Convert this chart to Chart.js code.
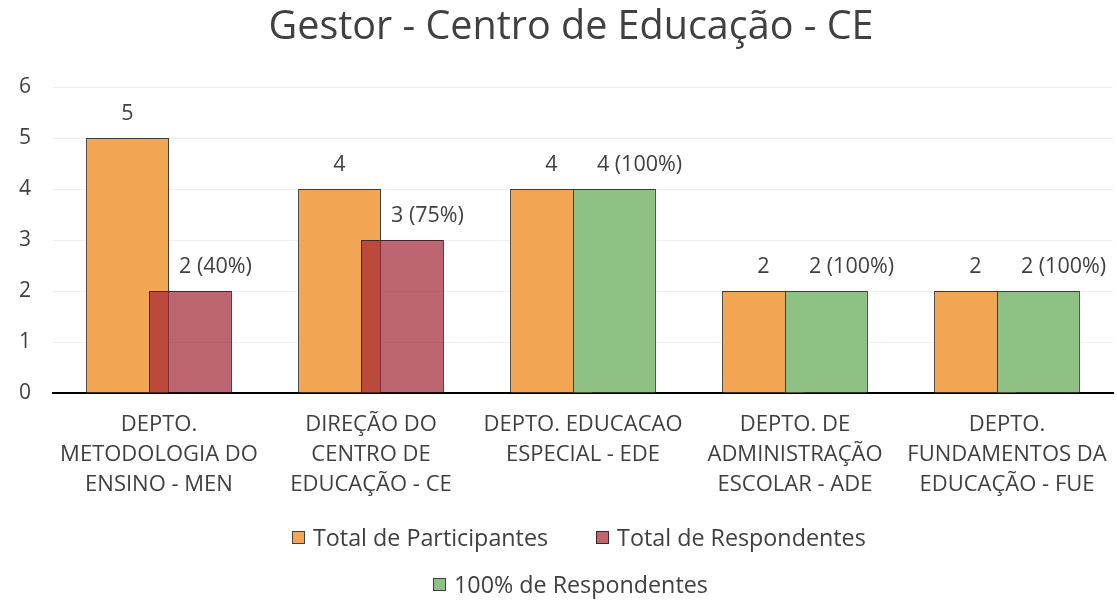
<!DOCTYPE html>
<html lang="pt">
<head>
<meta charset="utf-8">
<title>Gestor - Centro de Educação - CE</title>
<script src="https://cdn.jsdelivr.net/npm/chart.js@4.4.1/dist/chart.umd.min.js"></script>
<style>
  html, body { margin: 0; padding: 0; background: #fff; }
  .wrap { position: relative; width: 1117px; height: 600px; }
  #chart { position: absolute; left: 0; top: 0; }
  .legend-row { position: absolute; display: flex; align-items: center; font-family: 'Open Sans', sans-serif; font-size: 23.3px; color: #404040; white-space: nowrap; }
  .legend-item { display: flex; align-items: center; }
  .legend-item .box { width: 11px; height: 11px; border: 1px solid #404040; margin-right: 8px; }
</style>
</head>
<body>
<div class="wrap">
  <canvas id="chart" width="1117" height="600"></canvas>
  <div class="legend-row" id="legend-row1" style="left:292px; top:521px;"></div>
  <div class="legend-row" id="legend-row2" style="left:433px; top:568px;"></div>
</div>

<script>
/* ── Data ── */
const categories = [
  ['DEPTO.', 'METODOLOGIA DO', 'ENSINO - MEN'],
  ['DIREÇÃO DO', 'CENTRO DE', 'EDUCAÇÃO - CE'],
  ['DEPTO. EDUCACAO', 'ESPECIAL - EDE'],
  ['DEPTO. DE', 'ADMINISTRAÇÃO', 'ESCOLAR - ADE'],
  ['DEPTO.', 'FUNDAMENTOS DA', 'EDUCAÇÃO - FUE'],
];
const participantes   = [5, 4, 4, 2, 2];
const respondentes    = [2, 3, null, null, null];
const respondentes100 = [null, null, 4, 2, 2];
const yTicks = [0, 1, 2, 3, 4, 5, 6];

const chartTitle = 'Gestor - Centro de Educação - CE';
const seriesNames = ['Total de Participantes', 'Total de Respondentes', '100% de Respondentes'];
const colors = {
  orange: '#F2A553',
  red:    'rgba(161,36,51,0.70)',
  green:  '#8FC185',
};

const FONT = "'Open Sans', sans-serif";
const TEXT = '#404040';

/* ── Plugins ── */
// draw datasets in index order so the red bars sit on top of the orange ones
const drawInOrder = {
  id: 'drawInOrder',
  beforeDatasetsDraw(chart) {
    chart.data.datasets.forEach((ds, i) => {
      const meta = chart.getDatasetMeta(i);
      if (meta.visible) meta.controller.draw();
    });
    return false;
  }
};

// title sits a little right of the canvas centre, over the plot area
const titleText = {
  id: 'titleText',
  afterDraw(chart) {
    const ctx = chart.ctx;
    ctx.save();
    ctx.font = '39.5px ' + FONT;
    ctx.fillStyle = TEXT;
    ctx.textAlign = 'center';
    ctx.textBaseline = 'middle';
    ctx.fillText(chartTitle, 571, 28);
    ctx.restore();
  }
};

const valueLabels = {
  id: 'valueLabels',
  afterDraw(chart) {
    const ctx = chart.ctx;
    ctx.save();
    ctx.font = '21.5px ' + FONT;
    ctx.fillStyle = TEXT;
    ctx.textAlign = 'center';
    ctx.textBaseline = 'middle';
    chart.data.datasets.forEach((ds, i) => {
      const meta = chart.getDatasetMeta(i);
      meta.data.forEach((bar, j) => {
        const v = ds.data[j];
        if (v == null) return;
        let txt = String(v);
        let dx = 0;
        if (i > 0) {
          txt = v + ' (' + Math.round(v / participantes[j] * 100) + '%)';
          dx = 25;
        }
        ctx.fillText(txt, bar.x + dx, bar.y - 24);
      });
    });
    ctx.restore();
  }
};

/* ── Chart ── */
const ctx = document.getElementById('chart');
const chart = new Chart(ctx, {
  type: 'bar',
  data: {
    labels: categories,
    datasets: [
      { label: seriesNames[0], data: participantes, stack: 'p',
        backgroundColor: colors.orange, borderColor: '#3a3a3a', borderWidth: 1 },
      { label: seriesNames[1], data: respondentes, stack: 'r',
        backgroundColor: colors.red, borderColor: '#4a2228', borderWidth: 1 },
      { label: seriesNames[2], data: respondentes100, stack: 'r',
        backgroundColor: colors.green, borderColor: '#3a3a3a', borderWidth: 1 },
    ],
  },
  options: {
    responsive: false,
    animation: false,
    categoryPercentage: 0.594,
    barPercentage: 1.317,
    layout: { padding: { left: 0, right: 4, top: 87, bottom: 0 } },
    plugins: {
      legend: { display: false },
      tooltip: { enabled: false },
      title: { display: false },
    },
    scales: {
      x: {
        grid: { display: false, drawTicks: false },
        border: { display: true, color: '#000', width: 2 },
        ticks: { color: TEXT, font: { family: FONT, size: 22, lineHeight: 30 / 22 }, padding: 17, maxRotation: 0, autoSkip: false },
        afterFit(scale) {
          scale.height = 600 - 393;
          scale.paddingLeft = 0;
          scale.paddingRight = 0;
        },
      },
      y: {
        stacked: true,
        min: 0, max: 6,
        afterBuildTicks(scale) { scale.ticks = yTicks.map(v => ({ value: v })); },
        grid: { color: '#EFEFEF', drawTicks: false },
        border: { display: false },
        ticks: { color: '#404040', font: { family: FONT, size: 21 }, padding: 22 },
        afterFit(scale) {
          scale.width = 53;
          scale.paddingTop = 0;
          scale.paddingBottom = 0;
        },
      },
    },
  },
  plugins: [drawInOrder, valueLabels, titleText],
});

/* ── HTML legend ── */
function legendItem(i, color, borderColor) {
  return '<div class="legend-item"><span class="box" style="background:' + color +
         ';border-color:' + borderColor + '"></span>' + seriesNames[i] + '</div>';
}
document.getElementById('legend-row1').innerHTML =
  legendItem(0, colors.orange, '#404040') +
  '<div style="width:48px"></div>' +
  legendItem(1, '#BD6670', '#4a2228');
document.getElementById('legend-row2').innerHTML =
  legendItem(2, colors.green, '#404040');
</script>
</body>
</html>
